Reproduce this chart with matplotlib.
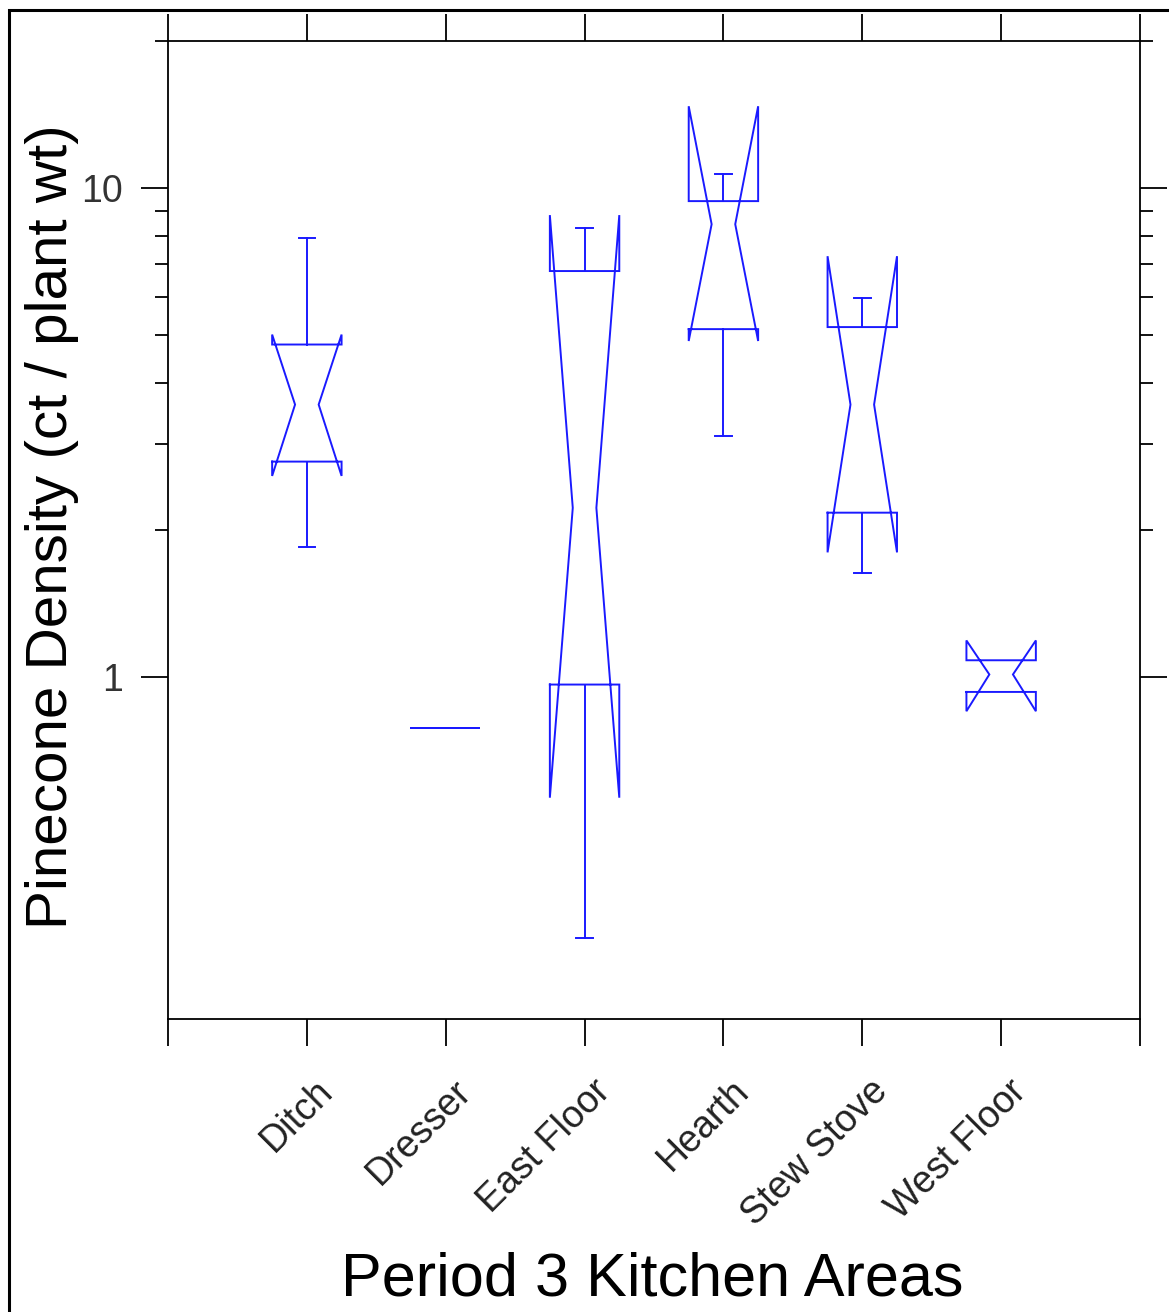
import matplotlib
matplotlib.use('Agg')
import matplotlib.pyplot as plt
import matplotlib.transforms as mtransforms
from matplotlib.patches import Rectangle
from matplotlib.ticker import FixedLocator, NullFormatter

plt.rcParams['font.family'] = ['Liberation Sans', 'DejaVu Sans']

# 数据：每个区域的箱线图统计量
areas = ['Ditch', 'Dresser', 'East Floor', 'Hearth', 'Stew Stove', 'West Floor']
whisk_lo = [1.85, 0.786, 0.293, 3.11, 1.63, 0.933]
q1 = [2.76, 0.786, 0.966, 5.15, 2.17, 0.933]
median = [3.61, 0.786, 2.22, 8.44, 3.61, 1.013]
q3 = [4.79, 0.786, 6.77, 9.41, 5.20, 1.083]
whisk_hi = [7.91, 0.786, 8.29, 10.68, 5.95, 1.083]
notch_lo = [2.58, 0.786, 0.567, 4.87, 1.80, 0.852]
notch_hi = [5.02, 0.786, 8.81, 14.71, 7.26, 1.189]

BLUE = '#1a1aff'
half_w = 0.25      # 箱体半宽
notch_w = 0.085    # 中位数处的半宽
cap_w = 0.06       # 须线端帽半宽

fig = plt.figure(figsize=(11.69, 13.12), dpi=100)
ax = fig.add_axes([168 / 1169, 1 - 1019 / 1312, 972 / 1169, 978 / 1312])
ax.set_yscale('log')

for i in range(len(areas)):
    x = i + 1
    L, R = x - half_w, x + half_w
    xs = [L, L, x - notch_w, L, L, R, R, x + notch_w, R, R, L]
    ys = [q1[i], notch_lo[i], median[i], notch_hi[i], q3[i],
          q3[i], notch_hi[i], median[i], notch_lo[i], q1[i], q1[i]]
    ax.plot(xs, ys, color=BLUE, lw=1.4, solid_joinstyle='miter')
    # 须线
    ax.plot([x, x], [q3[i], whisk_hi[i]], color=BLUE, lw=1.4)
    ax.plot([x, x], [q1[i], whisk_lo[i]], color=BLUE, lw=1.4)
    if whisk_hi[i] > q3[i]:
        ax.plot([x - cap_w, x + cap_w], [whisk_hi[i]] * 2, color=BLUE, lw=1.4)
    if whisk_lo[i] < q1[i]:
        ax.plot([x - cap_w, x + cap_w], [whisk_lo[i]] * 2, color=BLUE, lw=1.4)

ax.set_xlim(0, 7)
ax.set_ylim(0.2, 20)

ax.set_xticks(range(8))
ax.set_xticklabels([''] + areas + [''], rotation=45, ha='right', va='center',
                   rotation_mode='anchor', fontsize=27, color='#222222')
ax.yaxis.set_major_locator(FixedLocator([1, 10]))
ax.set_yticklabels(['1', '10'], fontsize=27, color='#333333')
ax.yaxis.set_minor_locator(FixedLocator([2, 3, 4, 5, 6, 7, 8, 9, 20]))
ax.yaxis.set_minor_formatter(NullFormatter())
ax.xaxis.set_minor_locator(FixedLocator([]))

ax.tick_params(which='major', direction='out', length=19.5, width=1.3,
               top=True, right=True, labeltop=False, labelright=False, color='black')
ax.tick_params(axis='y', which='minor', direction='out', length=9.5, width=1.3,
               left=True, right=True)
ax.tick_params(axis='x', pad=28.5)
ax.tick_params(axis='y', pad=13)

# 旋转标签整体右移
offset = mtransforms.ScaledTranslation(0.20, 0, fig.dpi_scale_trans)
for lbl in ax.get_xticklabels():
    lbl.set_transform(lbl.get_transform() + offset)

for sp in ax.spines.values():
    sp.set_linewidth(1.3)

fig.text(67 / 1169, 1 - 527 / 1312, 'Pinecone Density (ct / plant wt)', rotation=90,
         ha='center', va='baseline', rotation_mode='anchor', fontsize=42)
fig.text(652 / 1169, 1 - 1295 / 1312, 'Period 3 Kitchen Areas',
         ha='center', va='baseline', fontsize=44)

# 外框（左、上边）
fig.add_artist(Rectangle((9 / 1169, -0.1), 1.2, 0.1 + 1 - 10 / 1312,
                         transform=fig.transFigure, fill=False, lw=2.2, ec='black'))

fig.savefig('out.png', dpi=100)
